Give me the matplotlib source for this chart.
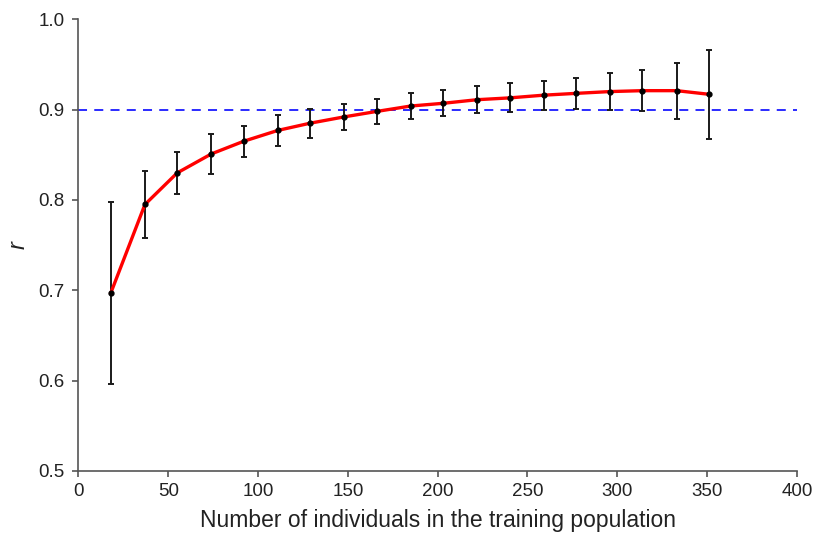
import matplotlib
matplotlib.use("Agg")
from matplotlib import pyplot as plt

# training population size
n_train = [18, 37, 55, 74, 92, 111, 129, 148, 166, 185, 203, 222, 240, 259, 277, 296, 314, 333, 351]
# mean accuracy (r) and standard deviation
r_mean = [0.697, 0.795, 0.830, 0.851, 0.865, 0.877, 0.885, 0.892, 0.898, 0.904, 0.907, 0.911,
          0.913, 0.916, 0.918, 0.920, 0.921, 0.921, 0.917]
r_sd = [0.101, 0.037, 0.023, 0.022, 0.017, 0.017, 0.016, 0.0145, 0.014, 0.014, 0.0145, 0.015,
        0.016, 0.016, 0.017, 0.020, 0.023, 0.031, 0.049]
threshold = 0.9

plt.rcParams['font.family'] = ['Liberation Sans', 'DejaVu Sans']

fig = plt.figure(figsize=(8.14, 5.36), dpi=100)
ax = fig.add_axes([0.0964, 0.1213, 0.8826, 0.8427])

ax.plot([0, 400], [threshold, threshold], color="#1a1aff", lw=1.3, dashes=(5, 4), zorder=1)
ax.errorbar(n_train, r_mean, yerr=r_sd, fmt="none", ecolor="#1a1a1a", elinewidth=1.4,
            capsize=2.5, capthick=1.4, zorder=2)
ax.plot(n_train, r_mean, color="red", lw=2.4, zorder=3)
ax.plot(n_train, r_mean, "o", color="black", ms=3.5, zorder=4)

ax.set_xlim(0, 400)
ax.set_ylim(0.5, 1.0)
ax.set_xticks(range(0, 401, 50))
ax.set_yticks([0.5, 0.6, 0.7, 0.8, 0.9, 1.0])
ax.set_yticklabels(["0.5", "0.6", "0.7", "0.8", "0.9", "1.0"])

for s in ["top", "right"]:
    ax.spines[s].set_visible(False)
for s in ["left", "bottom"]:
    ax.spines[s].set_color("#555555")
    ax.spines[s].set_linewidth(1.2)
ax.tick_params(direction="out", length=4, width=1.2, color="#555555", labelsize=13.5,
               labelcolor="#222222")
ax.tick_params(axis="x", pad=5)
ax.tick_params(axis="y", pad=6)

ax.set_xlabel("Number of individuals in the training population", fontsize=16.5,
              color="#222222", labelpad=6)
ax.set_ylabel("r", fontsize=17, style="italic", color="#222222")
ax.yaxis.set_label_coords(-0.068, 0.5)

plt.savefig("out.png")
